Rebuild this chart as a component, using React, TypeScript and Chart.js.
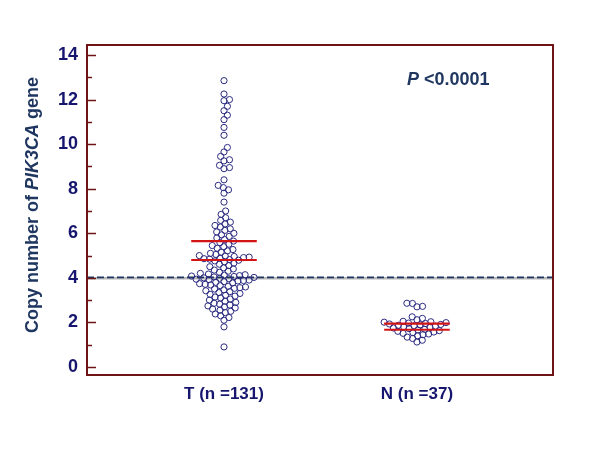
import React, { useEffect, useRef } from "react";
import { Chart, registerables } from "chart.js";

Chart.register(...registerables);

const categories = ["T (n =131)", "N (n =37)"];

const tValues = [
  12.85, 12.25, 12.0, 11.95, 11.7, 11.5, 11.3, 11.1, 10.75, 10.4, 9.85, 9.65, 9.45, 9.3, 9.25, 9.05, 8.95, 8.9,
  8.4, 8.15, 8.05, 7.95, 7.8, 7.4, 7.0, 6.85, 6.7,
  6.58, 6.5, 6.42, 6.35, 6.28, 6.2, 6.13, 6.06, 6.0,
  5.93, 5.86, 5.79, 5.72, 5.65, 5.58, 5.51,
  5.45, 5.4, 5.33, 5.27, 5.21, 5.15, 5.1, 5.05,
  5.0, 4.98, 4.96, 4.93, 4.91, 4.88, 4.86, 4.84, 4.82, 4.79, 4.76,
  4.72, 4.66, 4.61, 4.55, 4.5, 4.45, 4.4, 4.35, 4.3,
  4.25, 4.2, 4.17, 4.14, 4.12, 4.1, 4.08, 4.06, 4.04, 4.02, 4.0, 3.98, 3.96, 3.94, 3.92, 3.9, 3.88,
  3.86, 3.83, 3.8, 3.77, 3.74, 3.71, 3.68, 3.65, 3.62, 3.59, 3.56, 3.53, 3.5,
  3.46, 3.42, 3.38, 3.34, 3.3, 3.26, 3.22, 3.18, 3.14, 3.1, 3.05, 3.0,
  2.95, 2.9, 2.86, 2.82, 2.78, 2.74, 2.7, 2.65, 2.6,
  2.55, 2.5, 2.44, 2.38, 2.3, 2.22, 2.1,
  1.8, 0.9,
];

const nValues = [
  2.86, 2.85, 2.72, 2.7, 2.25, 2.18, 2.12,
  2.05, 2.03, 2.01, 1.99, 1.97, 1.95, 1.93, 1.91, 1.89, 1.87, 1.85, 1.83, 1.8,
  1.78, 1.75, 1.72, 1.69, 1.66, 1.63, 1.6, 1.57, 1.54, 1.51, 1.48, 1.45,
  1.4, 1.34, 1.28, 1.2, 1.12,
];

const tLines = [5.65, 4.8];
const nLines = [1.95, 1.67];
const cutoff = 4;
const yTickLabels = [0, 2, 4, 6, 8, 10, 12, 14];
const yMinorTicks = [0, 1, 2, 3, 4, 5, 6, 7, 8, 9, 10, 11, 12, 13, 14];
const yTitleParts = ["Copy number of ", "PIK3CA", " gene"];
const pParts = ["P", " <0.0001"];

const NAVY = "#16166e";
const SLATE = "#1f3760";
const MAROON = "#6e1414";
const FONT = "'Liberation Sans', Arial, sans-serif";

function swarm(values: number[], center: number, xs: any, ys: any, diam: number) {
  const order = values.map((_, i) => i).sort((a, b) => values[a] - values[b]);
  const placed: { px: number; py: number }[] = [];
  const out: { x: number; y: number }[] = new Array(values.length);
  const cpx = xs.getPixelForValue(center);
  for (const i of order) {
    const py = ys.getPixelForValue(values[i]);
    const near = placed.filter((p) => Math.abs(p.py - py) < diam);
    const cands = [0];
    for (const p of near) {
      const dx = Math.sqrt(diam * diam - (p.py - py) * (p.py - py));
      cands.push(p.px + dx, p.px - dx);
    }
    cands.sort((a, b) => Math.abs(a) - Math.abs(b));
    let chosen = 0;
    for (const c of cands) {
      if (near.every((p) => (p.px - c) ** 2 + (p.py - py) ** 2 >= diam * diam - 0.01)) {
        chosen = c;
        break;
      }
    }
    placed.push({ px: chosen, py });
    out[i] = { x: xs.getValueForPixel(cpx + chosen), y: values[i] };
  }
  return out;
}

const decor = {
  id: "decor",
  beforeDatasetsDraw(chart: any) {
    const { ctx, chartArea: a, scales } = chart;
    const yy = scales.y.getPixelForValue(cutoff);
    ctx.save();
    ctx.strokeStyle = "#b8b8b8";
    ctx.lineWidth = 2.5;
    ctx.beginPath();
    ctx.moveTo(a.left, yy + 0.5);
    ctx.lineTo(a.right, yy + 0.5);
    ctx.stroke();
    ctx.setLineDash([7, 3]);
    ctx.strokeStyle = SLATE;
    ctx.lineWidth = 1.6;
    ctx.beginPath();
    ctx.moveTo(a.left, yy - 0.5);
    ctx.lineTo(a.right, yy - 0.5);
    ctx.stroke();
    ctx.restore();
  },
  afterDatasetsDraw(chart: any) {
    const { ctx, chartArea: a, scales } = chart;
    const xs = scales.x;
    const ys = scales.y;
    ctx.save();
    ctx.strokeStyle = "#d41414";
    ctx.lineWidth = 2.2;
    const half = 0.17;
    [tLines, nLines].forEach((lines, gi) => {
      const c = gi + 1;
      lines.forEach((v) => {
        const py = ys.getPixelForValue(v);
        ctx.beginPath();
        ctx.moveTo(xs.getPixelForValue(c - half), py);
        ctx.lineTo(xs.getPixelForValue(c + half), py);
        ctx.stroke();
      });
    });
    ctx.strokeStyle = MAROON;
    ctx.lineWidth = 2;
    ctx.strokeRect(a.left, a.top, a.right - a.left, a.bottom - a.top);
    ctx.lineWidth = 1.5;
    yMinorTicks.forEach((v) => {
      const py = Math.round(ys.getPixelForValue(v)) + 0.5;
      const len = v % 2 === 0 ? 9 : 5;
      ctx.beginPath();
      ctx.moveTo(a.left, py);
      ctx.lineTo(a.left + len, py);
      ctx.stroke();
    });
    ctx.save();
    ctx.translate(33, 205);
    ctx.rotate(-Math.PI / 2);
    ctx.fillStyle = SLATE;
    ctx.textBaseline = "middle";
    const fonts = [`bold 18px ${FONT}`, `italic bold 18px ${FONT}`, `bold 18px ${FONT}`];
    let total = 0;
    const widths = yTitleParts.map((t, i) => {
      ctx.font = fonts[i];
      const w = ctx.measureText(t).width;
      total += w;
      return w;
    });
    let x0 = -total / 2;
    yTitleParts.forEach((t, i) => {
      ctx.font = fonts[i];
      ctx.fillText(t, x0, 0);
      x0 += widths[i];
    });
    ctx.restore();
    ctx.fillStyle = SLATE;
    ctx.textBaseline = "alphabetic";
    let px = 407;
    ctx.font = `italic bold 18px ${FONT}`;
    ctx.fillText(pParts[0], px, 85);
    px += ctx.measureText(pParts[0]).width;
    ctx.font = `bold 18px ${FONT}`;
    ctx.fillText(pParts[1], px, 85);
    ctx.restore();
  },
};

export default function App() {
  const ref = useRef<HTMLCanvasElement | null>(null);
  useEffect(() => {
    if (!ref.current) return;
    const pointStyle = {
      pointRadius: 3.1,
      pointHoverRadius: 3.1,
      pointBorderWidth: 1,
      pointBorderColor: "#2a2a80",
      pointBackgroundColor: "rgba(255,255,255,0)",
      showLine: false,
    };
    const chart = new Chart(ref.current, {
      type: "scatter",
      data: {
        datasets: [
          { label: categories[0], data: tValues.map((v) => ({ x: 1, y: v })), ...pointStyle },
          { label: categories[1], data: nValues.map((v) => ({ x: 2, y: v })), ...pointStyle },
        ],
      },
      options: {
        responsive: false,
        animation: false,
        events: [],
        layout: { padding: { left: 0, top: 45, right: 47, bottom: 0 } },
        plugins: { legend: { display: false }, tooltip: { enabled: false } },
        scales: {
          x: {
            type: "linear",
            min: 0.29,
            max: 2.705,
            grid: { display: false },
            border: { display: false },
            afterBuildTicks: (s: any) => {
              s.ticks = categories.map((_, i) => ({ value: i + 1 }));
            },
            afterFit: (s: any) => {
              s.height = 75;
            },
            ticks: {
              autoSkip: false,
              maxRotation: 0,
              padding: 1,
              color: NAVY,
              font: { family: FONT, size: 17, weight: "bold" },
              callback: (v: any) => categories[Math.round(v) - 1] ?? "",
            },
          },
          y: {
            type: "linear",
            min: -0.36,
            max: 14.45,
            grid: { display: false },
            border: { display: false },
            afterBuildTicks: (s: any) => {
              s.ticks = yTickLabels.map((v) => ({ value: v }));
            },
            afterFit: (s: any) => {
              s.width = 87;
            },
            ticks: {
              autoSkip: false,
              padding: 1,
              color: NAVY,
              font: { family: FONT, size: 18, weight: "bold" },
              callback: (v: any) => String(v),
            },
          },
        },
      },
      plugins: [decor],
    });
    const xs = chart.scales.x;
    const ys = chart.scales.y;
    chart.data.datasets[0].data = swarm(tValues, 1, xs, ys, 5.6) as any;
    chart.data.datasets[1].data = swarm(nValues, 2, xs, ys, 5.6) as any;
    chart.update();
    return () => chart.destroy();
  }, []);
  return (
    <div style={{ position: "fixed", left: 0, top: 0, width: 600, height: 450, background: "#fff" }}>
      <canvas ref={ref} width={600} height={450} style={{ display: "block" }} />
    </div>
  );
}
